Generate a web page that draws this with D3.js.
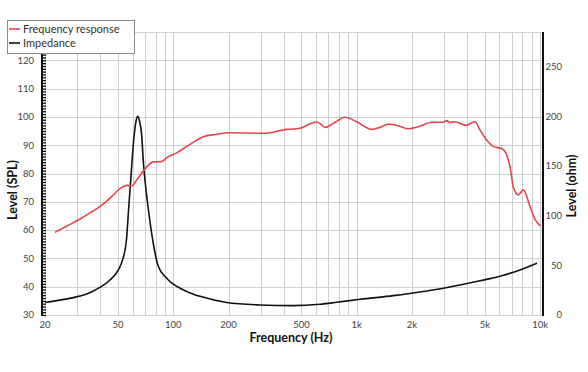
<!DOCTYPE html>
<html><head><meta charset="utf-8">
<script src="https://cdn.jsdelivr.net/npm/d3@7"></script>
<style>
html,body{margin:0;padding:0;background:#fff;}
svg{display:block;font-family:Lato,"Open Sans",sans-serif;}
</style></head>
<body><svg id="chart" width="588" height="372"></svg>
<script>
// ---- data ----
const splFreq = [22.6,26,31,35,39.8,46.1,52.3,56.2,59.3,63.2,69.2,77.9,86.5,92,104.4,123.3,145.8,170,203.8,309.8,415,490.8,560,605.6,640,672,745,863,1000,1208,1340,1488,1700,1911,2167,2565,2970,3100,3230,3436,3945,4418,4702,5114,5560,6175,6520,6855,7150,7604,8100,8810,9380,10070];
const splLevel = [59.2,61.3,63.9,66.0,68.3,71.8,75.1,75.8,75.6,77.7,81.2,84.1,84.2,85.6,87.3,90.3,93.0,93.8,94.4,94.2,95.6,96.0,97.6,98.2,97.3,96.3,97.7,99.9,98.3,95.6,96.3,97.5,96.8,95.8,96.5,98.1,98.1,98.7,98.0,98.3,97.0,98.3,95.4,91.8,89.5,88.8,87.1,82.4,75.1,72.4,74.2,68.3,63.8,61.4];
const impFreq = [20,25,30,35,40,45,50,53,55.5,57,58.8,61.1,62.6,64.0,65.3,67.3,68.6,71.0,73.3,77.8,82.8,92,100,108.8,128.7,140,195,297,448,631,778,1043,1585,2410,3656,4702,6045,7770,9617];
const impOhm = [12.6,15.5,18.5,22.5,28,35,45,56,75,105,140,180,195,200,196,180,155,126,105,72,49,37,31,27,21,18.8,12.6,10.1,9.4,10.8,12.8,15.8,19.5,24.2,30.3,34.5,39,45.4,52.1];
const xTickValues = [20,50,100,200,500,1000,2000,5000,10000];
const xTickLabels = ["20","50","100","200","500","1k","2k","5k","10k"];
const xGridValues = [20,30,40,50,60,70,80,90,100,200,300,400,500,600,700,800,900,1000,2000,3000,4000,5000,6000,7000,8000,9000,10000];
const leftTicks = [30,40,50,60,70,80,90,100,110,120];
const leftGrid = [30,40,50,60,70,80,90,100,110,120,130];
const rightTicks = [0,50,100,150,200,250];
const seriesNames = ["Frequency response","Impedance"];
const seriesColors = ["#e8434b","#111111"];

// ---- layout ----
const svg = d3.select("#chart");
const pL = 42, pR = 543, pT = 32, pB = 315;
const x = d3.scaleLog().domain([20,10000]).range([45.1,540.1]);
const yL = d3.scaleLinear().domain([30,130]).range([pB,pT]);
const yR = d3.scaleLinear().domain([0,285]).range([pB,pT]);

// grid
const g = svg.append("g");
g.selectAll("line.vg").data(xGridValues).enter().append("line")
  .attr("x1",d=>Math.round(x(d))+0.5).attr("x2",d=>Math.round(x(d))+0.5)
  .attr("y1",pT).attr("y2",pB)
  .attr("stroke","#cfcfcf").attr("stroke-width",1);
g.selectAll("line.hg").data(leftGrid).enter().append("line")
  .attr("x1",pL).attr("x2",pR)
  .attr("y1",d=>Math.round(yL(d))+0.5).attr("y2",d=>Math.round(yL(d))+0.5)
  .attr("stroke","#cfcfcf").attr("stroke-width",1);

// curves
const lineSPL = d3.line().x(d=>x(d[0])).y(d=>yL(d[1])).curve(d3.curveMonotoneX);
const lineImp = d3.line().x(d=>x(d[0])).y(d=>yR(d[1])).curve(d3.curveMonotoneX);
svg.append("path").datum(impFreq.map((f,i)=>[f,impOhm[i]]))
  .attr("d",lineImp).attr("fill","none").attr("stroke",seriesColors[1]).attr("stroke-width",1.6);
svg.append("path").datum(splFreq.map((f,i)=>[f,splLevel[i]]))
  .attr("d",lineSPL).attr("fill","none").attr("stroke",seriesColors[0]).attr("stroke-width",1.6);

// left axis
const minor = d3.range(30,131,1);
const la = svg.append("g").attr("transform",`translate(${pL},0)`)
  .call(d3.axisRight(yL).tickValues(minor).tickSize(4).tickFormat(""));
la.select(".domain").remove();
la.selectAll("line").attr("stroke","#111").attr("stroke-width",1.3);
svg.append("line").attr("x1",pL).attr("x2",pL).attr("y1",pT).attr("y2",pB+1)
  .attr("stroke","#111").attr("stroke-width",2);
svg.append("g").selectAll("text").data(leftTicks).enter().append("text")
  .attr("x",34).attr("y",d=>yL(d)+3.3).attr("text-anchor","end")
  .attr("font-size",9.5).attr("fill","#444").text(d=>d);

// right axis
svg.append("line").attr("x1",pR).attr("x2",pR).attr("y1",pT).attr("y2",pB+1)
  .attr("stroke","#111").attr("stroke-width",2);
svg.append("g").selectAll("text").data(rightTicks).enter().append("text")
  .attr("x",562).attr("y",d=>yR(d)+3.3).attr("text-anchor","end")
  .attr("font-size",9.5).attr("fill","#444").text(d=>d);

// x labels
svg.append("g").selectAll("text").data(xTickValues).enter().append("text")
  .attr("x",d=>x(d)).attr("y",327.5).attr("text-anchor","middle")
  .attr("font-size",9.5).attr("fill","#444").text((d,i)=>xTickLabels[i]);

// titles
svg.append("text").attr("x",291).attr("y",342).attr("text-anchor","middle")
  .attr("font-size",12.5).attr("font-weight","bold").attr("fill","#111").text("Frequency (Hz)");
svg.append("text").attr("transform","translate(17,190) rotate(-90)").attr("text-anchor","middle")
  .attr("font-size",12.5).attr("font-weight","bold").attr("fill","#111").text("Level (SPL)");
svg.append("text").attr("transform","translate(576,186) rotate(-90)").attr("text-anchor","middle")
  .attr("font-size",12.5).attr("font-weight","bold").attr("fill","#111").text("Level (ohm)");

// legend
const lg = svg.append("g");
lg.append("rect").attr("x",7.5).attr("y",20.5).attr("width",127).attr("height",33)
  .attr("fill","#fff").attr("stroke","#8a8a8a").attr("stroke-width",1);
seriesNames.forEach((n,i)=>{
  const yy = 29 + i*14;
  lg.append("line").attr("x1",9).attr("x2",20).attr("y1",yy).attr("y2",yy)
    .attr("stroke",seriesColors[i]).attr("stroke-width",1.6);
  lg.append("text").attr("x",23).attr("y",yy+4).attr("font-size",11).attr("fill","#333").text(n);
});
</script></body></html>
